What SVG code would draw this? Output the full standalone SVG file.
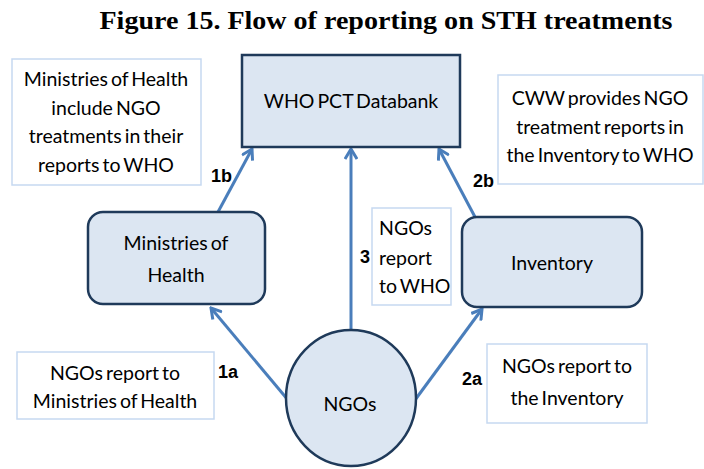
<svg xmlns="http://www.w3.org/2000/svg" width="704" height="469" viewBox="0 0 704 469">
<style>
.t{font-family:Lato,"Open Sans","DejaVu Sans",sans-serif;font-size:19.5px;word-spacing:-2px;fill:#000;text-anchor:middle}
.s{text-anchor:start}
.lbl{font-family:"Liberation Sans",Arial,sans-serif;font-size:18px;font-weight:bold;fill:#000}
.note{fill:#fff;stroke:#c6d9f1;stroke-width:1.5}
.node{fill:#dce6f2;stroke:#1f3a5a;stroke-width:2.5}
.edge{stroke:#4a7ebb;stroke-width:3;fill:none;marker-end:url(#arr)}
</style>
<defs>
<marker id="arr" markerUnits="userSpaceOnUse" viewBox="0 0 14 14" refX="12" refY="7" markerWidth="14" markerHeight="14" orient="auto">
<path d="M2,1 L12,7 L2,13" fill="none" stroke="#4a7ebb" stroke-width="3"/>
</marker>
</defs>
<rect width="704" height="469" fill="#fff"/>
<text x="386" y="29" font-family="'Liberation Serif',serif" font-size="25" font-weight="bold" text-anchor="middle" textLength="573" lengthAdjust="spacingAndGlyphs">Figure 15. Flow of reporting on STH treatments</text>

<g id="connectors">
<line class="edge" x1="218" y1="212" x2="252" y2="149"/>
<line class="edge" x1="351" y1="330" x2="351" y2="149"/>
<line class="edge" x1="475" y1="217" x2="439" y2="149"/>
<line class="edge" x1="288" y1="400" x2="211" y2="308"/>
<line class="edge" x1="415" y1="400" x2="482" y2="309"/>
</g>

<g id="note-moh">
<rect class="note" x="12" y="59" width="189" height="126"/>
<text class="t" x="106" y="86">Ministries of Health</text>
<text class="t" x="106" y="115">include NGO</text>
<text class="t" x="106" y="143">treatments in their</text>
<text class="t" x="106" y="172">reports to WHO</text>
</g>

<g id="note-cww">
<rect class="note" x="498" y="75" width="205" height="109"/>
<text class="t" x="600" y="105">CWW provides NGO</text>
<text class="t" x="600" y="134">treatment reports in</text>
<text class="t" x="600" y="162">the Inventory to WHO</text>
</g>

<g id="who">
<rect class="node" x="242" y="55" width="218" height="92"/>
<text class="t" x="351" y="108">WHO PCT Databank</text>
</g>

<g id="moh">
<rect class="node" x="88" y="212" width="177" height="92" rx="15"/>
<text class="t" x="176" y="250">Ministries of</text>
<text class="t" x="176" y="282">Health</text>
</g>

<g id="inventory">
<rect class="node" x="462" y="217" width="180" height="90" rx="15"/>
<text class="t" x="552" y="270">Inventory</text>
</g>

<g id="ngos">
<ellipse class="node" cx="351" cy="398" rx="65" ry="68"/>
<text class="t" x="350" y="411">NGOs</text>
</g>

<g id="note-3">
<rect class="note" x="372" y="208" width="79" height="97"/>
<text class="t s" x="379" y="235">NGOs</text>
<text class="t s" x="379" y="265">report</text>
<text class="t s" x="379" y="293">to WHO</text>
</g>

<g id="note-1a">
<rect class="note" x="17" y="352" width="197" height="67"/>
<text class="t" x="115" y="380">NGOs report to</text>
<text class="t" x="115" y="408">Ministries of Health</text>
</g>

<g id="note-2a">
<rect class="note" x="487" y="344" width="160" height="79"/>
<text class="t" x="567" y="373">NGOs report to</text>
<text class="t" x="567" y="405">the Inventory</text>
</g>

<g id="labels">
<text class="lbl" x="211" y="182">1b</text>
<text class="lbl" x="473" y="187">2b</text>
<text class="lbl" x="360" y="263">3</text>
<text class="lbl" x="218" y="378">1a</text>
<text class="lbl" x="462" y="385">2a</text>
</g>
</svg>
